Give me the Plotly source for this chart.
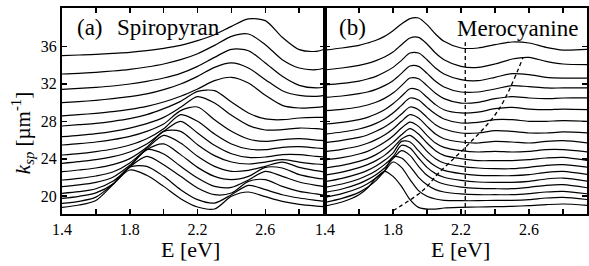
import plotly.graph_objects as go

# ---------------- data: panel (a) Spiropyran ----------------
E_sp = [1.4, 1.5, 1.6, 1.7, 1.8, 1.9, 2.0, 2.1, 2.2, 2.3, 2.4, 2.5, 2.6, 2.7, 2.8, 2.9, 2.95]
sp01 = [35.01, 35.08, 35.15, 35.26, 35.37, 35.54, 35.79, 36.11, 36.61, 37.25, 38.14, 38.93, 38.75, 36.97, 35.65, 35.47, 35.69]
sp02 = [33.05, 33.12, 33.23, 33.37, 33.55, 33.80, 34.12, 34.58, 35.22, 36.11, 37.07, 37.32, 36.18, 34.58, 33.69, 33.51, 33.69]
sp03 = [31.41, 31.52, 31.63, 31.77, 31.98, 32.27, 32.62, 33.12, 33.87, 34.83, 35.69, 35.54, 34.23, 32.80, 31.84, 31.56, 31.66]
sp04 = [29.99, 30.10, 30.24, 30.42, 30.63, 30.92, 31.38, 31.98, 32.80, 33.76, 34.23, 33.69, 32.45, 31.27, 30.77, 30.67, 30.77]
sp05 = [28.57, 28.71, 28.85, 29.03, 29.28, 29.60, 30.06, 30.67, 31.45, 32.34, 32.70, 32.09, 30.77, 29.70, 29.42, 29.49, 29.60]
sp06 = [27.50, 27.64, 27.78, 28.00, 28.28, 28.71, 29.35, 30.13, 31.20, 31.27, 30.06, 28.89, 28.25, 28.17, 28.35, 28.42, 28.42]
sp07 = [26.36, 26.50, 26.68, 26.93, 27.28, 27.75, 28.42, 29.49, 30.63, 29.95, 28.64, 27.57, 27.07, 27.11, 27.28, 27.21, 27.11]
sp08 = [25.47, 25.61, 25.79, 26.04, 26.39, 26.93, 27.71, 29.14, 29.53, 28.17, 26.93, 26.11, 25.86, 26.04, 26.14, 26.00, 25.93]
sp09 = [24.40, 24.54, 24.76, 25.04, 25.47, 26.14, 27.21, 28.71, 28.00, 26.64, 25.58, 25.04, 24.97, 25.22, 25.29, 25.15, 25.08]
sp10 = [23.51, 23.69, 23.90, 24.22, 24.72, 25.58, 26.93, 28.00, 26.75, 25.43, 24.54, 24.15, 24.19, 24.44, 24.44, 24.26, 24.19]
sp11 = [22.62, 22.80, 23.01, 23.37, 24.01, 25.22, 26.93, 26.93, 25.50, 24.33, 23.65, 23.44, 23.65, 23.90, 23.65, 23.44, 23.37]
sp12 = [21.73, 21.91, 22.16, 22.58, 23.55, 25.08, 26.50, 25.68, 24.26, 23.19, 22.66, 22.76, 23.19, 23.65, 23.08, 22.73, 22.58]
sp13 = [21.02, 21.20, 21.48, 22.02, 23.30, 24.97, 25.58, 24.44, 23.08, 22.12, 21.77, 22.12, 23.08, 23.01, 22.30, 21.94, 21.84]
sp14 = [20.31, 20.48, 20.80, 21.59, 23.12, 24.97, 24.51, 23.19, 21.94, 21.05, 20.95, 21.73, 22.66, 22.12, 21.52, 21.16, 21.02]
sp15 = [19.77, 19.99, 20.35, 21.30, 23.12, 24.26, 23.37, 22.12, 20.88, 20.16, 20.34, 21.59, 21.77, 21.05, 20.52, 20.24, 20.09]
sp16 = [19.24, 19.45, 19.90, 21.30, 23.12, 23.19, 22.12, 20.70, 19.63, 19.27, 20.16, 21.16, 20.70, 20.16, 19.81, 19.56, 19.45]
sp17 = [18.81, 19.06, 19.55, 21.23, 22.80, 22.23, 21.05, 19.74, 18.85, 18.63, 19.99, 20.45, 19.95, 19.45, 19.13, 18.95, 18.88]

# ---------------- data: panel (b) Merocyanine ----------------
E_mc = [1.4, 1.5, 1.6, 1.65, 1.7, 1.75, 1.8, 1.85, 1.9, 1.95, 2.0, 2.05, 2.1, 2.2, 2.3, 2.4, 2.5, 2.6, 2.7, 2.8, 2.95]
mc01 = [35.61, 35.83, 36.11, 36.36, 36.65, 37.07, 37.68, 38.39, 38.96, 39.03, 38.32, 37.32, 36.54, 35.83, 35.83, 36.18, 36.47, 36.36, 35.90, 35.61, 35.69]
mc02 = [33.48, 33.69, 33.98, 34.19, 34.48, 34.87, 35.40, 36.18, 36.90, 36.97, 36.26, 35.29, 34.58, 33.87, 33.76, 34.12, 34.65, 34.83, 34.40, 34.12, 34.05]
mc03 = [31.88, 32.05, 32.30, 32.52, 32.80, 33.23, 33.76, 34.51, 35.29, 35.29, 34.58, 33.69, 33.05, 32.45, 32.34, 32.70, 33.09, 32.98, 32.70, 32.62, 32.62]
mc04 = [30.56, 30.70, 30.95, 31.13, 31.41, 31.81, 32.34, 33.12, 33.91, 33.87, 33.12, 32.27, 31.66, 31.13, 31.13, 31.45, 31.81, 31.70, 31.56, 31.56, 31.56]
mc05 = [29.14, 29.28, 29.53, 29.74, 30.03, 30.45, 31.02, 31.81, 32.62, 32.55, 31.81, 30.99, 30.42, 29.95, 30.03, 30.42, 30.63, 30.49, 30.42, 30.49, 30.49]
mc06 = [27.71, 27.89, 28.17, 28.42, 28.78, 29.24, 29.88, 30.67, 31.48, 31.34, 30.56, 29.78, 29.24, 28.89, 28.99, 29.35, 29.49, 29.31, 29.24, 29.31, 29.24]
mc07 = [26.64, 26.86, 27.18, 27.43, 27.78, 28.25, 28.89, 29.70, 30.49, 30.27, 29.49, 28.78, 28.25, 27.82, 27.89, 28.17, 28.17, 28.00, 28.00, 28.07, 28.00]
mc08 = [25.72, 25.97, 26.29, 26.54, 26.93, 27.39, 28.00, 28.78, 29.53, 29.24, 28.42, 27.64, 27.18, 26.75, 26.75, 27.00, 26.93, 26.75, 26.75, 26.86, 26.75]
mc09 = [24.76, 25.01, 25.36, 25.65, 26.04, 26.54, 27.18, 28.00, 28.71, 28.35, 27.46, 26.64, 26.14, 25.79, 25.68, 25.86, 25.79, 25.68, 25.86, 25.93, 25.68]
mc10 = [23.87, 24.12, 24.51, 24.79, 25.22, 25.75, 26.43, 27.28, 27.92, 27.46, 26.50, 25.68, 25.22, 24.86, 24.72, 24.79, 24.72, 24.79, 24.97, 24.97, 24.72]
mc11 = [23.01, 23.30, 23.72, 24.01, 24.44, 25.01, 25.72, 26.57, 27.21, 26.64, 25.68, 24.86, 24.36, 24.01, 23.80, 23.80, 23.80, 23.90, 24.08, 24.15, 23.80]
mc12 = [22.26, 22.58, 23.05, 23.37, 23.80, 24.36, 25.15, 26.11, 26.50, 25.79, 24.79, 24.01, 23.55, 23.19, 23.01, 22.94, 22.94, 23.08, 23.30, 23.37, 23.08]
mc13 = [21.55, 21.91, 22.41, 22.76, 23.23, 23.83, 24.61, 25.86, 25.79, 24.86, 23.90, 23.19, 22.76, 22.41, 22.23, 22.19, 22.19, 22.30, 22.55, 22.66, 22.30]
mc14 = [20.95, 21.30, 21.84, 22.23, 22.73, 23.37, 24.19, 25.43, 25.15, 24.08, 23.08, 22.41, 22.02, 21.69, 21.52, 21.48, 21.48, 21.59, 21.84, 21.94, 21.59]
mc15 = [20.41, 20.77, 21.34, 21.77, 22.30, 23.01, 24.01, 24.86, 24.36, 23.19, 22.23, 21.66, 21.30, 20.98, 20.84, 20.80, 20.80, 20.95, 21.16, 21.23, 20.88]
mc16 = [19.88, 20.27, 20.88, 21.34, 21.94, 22.73, 24.19, 24.08, 23.19, 22.02, 21.23, 20.70, 20.45, 20.24, 20.16, 20.16, 20.16, 20.27, 20.45, 20.52, 20.24]
mc17 = [19.35, 19.77, 20.41, 20.95, 21.66, 22.66, 23.65, 23.08, 21.77, 20.59, 19.99, 19.70, 19.56, 19.52, 19.52, 19.56, 19.56, 19.63, 19.81, 19.88, 19.63]
mc18 = [18.95, 19.38, 20.16, 20.88, 21.94, 22.66, 22.12, 21.05, 19.63, 18.81, 18.63, 18.63, 18.74, 18.81, 18.85, 18.88, 18.92, 18.99, 19.10, 19.17, 19.02]

# dashed guide lines in panel (b)
guide_E = [1.80, 1.975, 2.07, 2.23, 2.42, 2.565]
guide_k = [18.45, 20.6, 22.5, 25.3, 29.2, 34.85]
vline_E = [2.225, 2.225]
vline_k = [18.1, 36.45]

# ticks
xtick_vals = [1.4, 1.8, 2.2, 2.6]
xtick_text = ["1.4", "1.8", "2.2", "2.6"]
ytick_vals = [20, 24, 28, 32, 36]

spiro = [sp01, sp02, sp03, sp04, sp05, sp06, sp07, sp08, sp09, sp10, sp11, sp12, sp13, sp14, sp15, sp16, sp17]
mero = [mc01, mc02, mc03, mc04, mc05, mc06, mc07, mc08, mc09, mc10, mc11, mc12, mc13, mc14, mc15, mc16, mc17, mc18]

FONT = "Liberation Serif, Times New Roman, Times, serif"
LINE = dict(color="black", width=1.2, shape="spline", smoothing=0.8)

fig = go.Figure()
for k in spiro:
    fig.add_trace(go.Scatter(x=E_sp, y=k, mode="lines", xaxis="x", yaxis="y",
                             line=LINE, showlegend=False, hoverinfo="skip"))
for k in mero:
    fig.add_trace(go.Scatter(x=E_mc, y=k, mode="lines", xaxis="x2", yaxis="y2",
                             line=LINE, showlegend=False, hoverinfo="skip"))
fig.add_trace(go.Scatter(x=guide_E, y=guide_k, mode="lines", xaxis="x2", yaxis="y2",
                         line=dict(color="black", width=1.3, dash="4px,3px", shape="spline"),
                         showlegend=False, hoverinfo="skip"))
fig.add_trace(go.Scatter(x=vline_E, y=vline_k, mode="lines", xaxis="x2", yaxis="y2",
                         line=dict(color="black", width=1.3, dash="4px,3px"),
                         showlegend=False, hoverinfo="skip"))

split = 264 / 527
axis_common = dict(showline=True, linecolor="black", linewidth=2, mirror="ticks",
                   ticks="inside", ticklen=5, tickwidth=1.5, tickcolor="black",
                   showgrid=False, zeroline=False,
                   tickfont=dict(family=FONT, size=16, color="black"))
minor_x = dict(tick0=1.4, dtick=0.2, ticks="inside", ticklen=5, tickwidth=1.5, tickcolor="black", showgrid=False)

fig.update_layout(
    width=589, height=266,
    margin=dict(l=62, r=0, t=8, b=52),
    paper_bgcolor="white", plot_bgcolor="white",
    font=dict(family=FONT, color="black"),
    xaxis=dict(domain=[0, split], range=[1.4, 2.952], anchor="y",
               tickvals=xtick_vals, ticktext=xtick_text, minor=minor_x, **axis_common),
    xaxis2=dict(domain=[split, 1], range=[1.4, 2.941], anchor="y2",
                tickvals=xtick_vals, ticktext=xtick_text, minor=minor_x, **axis_common),
    yaxis=dict(domain=[0, 1], range=[18.1, 40.1], anchor="x",
               tickvals=ytick_vals, **axis_common),
    yaxis2=dict(domain=[0, 1], range=[18.1, 40.1], anchor="x2", matches="y",
                tickvals=ytick_vals, showticklabels=False, **axis_common),
    annotations=[
        dict(text="(a)", x=(75 - 62) / 264, y=(214 - 28) / 206, xref="x domain", yref="paper",
             showarrow=False, xanchor="left", yanchor="middle", font=dict(family=FONT, size=23)),
        dict(text="Spiropyran", x=(115 - 62) / 264, y=(214 - 28) / 206, xref="x domain", yref="paper",
             showarrow=False, xanchor="left", yanchor="middle", font=dict(family=FONT, size=23)),
        dict(text="(b)", x=(338 - 326) / 263, y=(214 - 28) / 206, xref="x2 domain", yref="paper",
             showarrow=False, xanchor="left", yanchor="middle", font=dict(family=FONT, size=23)),
        dict(text="Merocyanine", x=(456 - 326) / 263, y=(214 - 29) / 206, xref="x2 domain", yref="paper",
             showarrow=False, xanchor="left", yanchor="middle", font=dict(family=FONT, size=23)),
        dict(text="E [eV]", x=(191 - 62) / 264, y=(214 - 250) / 206, xref="x domain", yref="paper",
             showarrow=False, xanchor="center", yanchor="middle", font=dict(family=FONT, size=22)),
        dict(text="E [eV]", x=(462 - 326) / 263, y=(214 - 250) / 206, xref="x2 domain", yref="paper",
             showarrow=False, xanchor="center", yanchor="middle", font=dict(family=FONT, size=22)),
        dict(text="<i>k</i><sub><i>sp</i></sub> [µm<sup>-1</sup>]", x=-(62 - 22) / 264, y=(214 - 133) / 206,
             xref="x domain", yref="paper", textangle=-90,
             showarrow=False, xanchor="center", yanchor="middle", font=dict(family=FONT, size=21)),
    ],
)

fig.write_html("out.html", config={"displayModeBar": False, "staticPlot": True},
               post_script="document.body.style.margin='0px';document.body.style.overflow='hidden';")
